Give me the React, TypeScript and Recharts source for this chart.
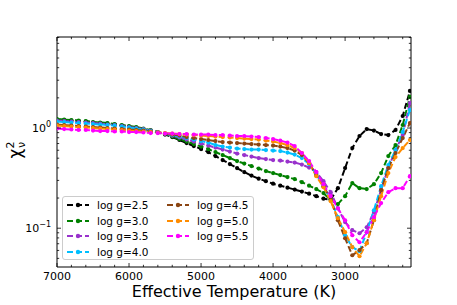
import React from "react";
import { LineChart, Line, XAxis, YAxis, Legend } from "recharts";

const temps = [
  7000, 6900, 6800, 6700, 6600, 6500, 6400, 6300, 6200, 6100,
  6000, 5900, 5800, 5700, 5600, 5500, 5400, 5300, 5200, 5100,
  5000, 4900, 4800, 4700, 4600, 4500, 4400, 4300, 4200, 4100,
  4000, 3900, 3800, 3700, 3600, 3500, 3400, 3300, 3200, 3100,
  3000, 2900, 2800, 2700, 2600, 2500, 2400, 2300, 2200, 2100,
];

const logg25 = [
  1.216, 1.202, 1.189, 1.175, 1.161, 1.135, 1.122, 1.109, 1.084, 1.059,
  1.035, 1.012, 0.977, 0.944, 0.902, 0.861, 0.813, 0.759, 0.708, 0.661,
  0.617, 0.575, 0.525, 0.479, 0.437, 0.398, 0.363, 0.335, 0.312, 0.295,
  0.278, 0.266, 0.254, 0.243, 0.232, 0.221, 0.209, 0.197, 0.193, 0.251,
  0.398, 0.631, 0.832, 0.977, 0.944, 0.871, 0.851, 0.955, 1.318, 2.344,
];
const logg30 = [
  1.23, 1.216, 1.202, 1.189, 1.175, 1.148, 1.135, 1.122, 1.096, 1.072,
  1.047, 1.023, 0.989, 0.955, 0.912, 0.871, 0.822, 0.776, 0.733, 0.692,
  0.653, 0.617, 0.575, 0.537, 0.501, 0.468, 0.442, 0.417, 0.394, 0.372,
  0.355, 0.339, 0.324, 0.309, 0.288, 0.266, 0.246, 0.224, 0.191, 0.174,
  0.209, 0.282, 0.251, 0.246, 0.275, 0.355, 0.525, 0.676, 1.072, 2.042,
];
const logg35 = [
  1.189, 1.175, 1.161, 1.148, 1.135, 1.122, 1.109, 1.084, 1.072, 1.047,
  1.023, 1.0, 0.977, 0.944, 0.912, 0.881, 0.841, 0.804, 0.767, 0.733,
  0.7, 0.668, 0.638, 0.61, 0.582, 0.556, 0.537, 0.519, 0.501, 0.49,
  0.479, 0.473, 0.462, 0.452, 0.432, 0.403, 0.363, 0.295, 0.229, 0.158,
  0.115, 0.0955, 0.0891, 0.102, 0.145, 0.24, 0.398, 0.603, 0.851, 1.778,
];
const logg40 = [
  1.161, 1.148, 1.135, 1.122, 1.109, 1.096, 1.084, 1.072, 1.059, 1.035,
  1.012, 0.989, 0.966, 0.933, 0.902, 0.881, 0.851, 0.822, 0.794, 0.767,
  0.741, 0.716, 0.676, 0.653, 0.638, 0.624, 0.617, 0.61, 0.61, 0.603,
  0.596, 0.589, 0.569, 0.543, 0.501, 0.437, 0.347, 0.263, 0.195, 0.129,
  0.0851, 0.0646, 0.0589, 0.0912, 0.151, 0.263, 0.427, 0.603, 0.912, 1.514,
];
const logg45 = [
  1.084, 1.072, 1.059, 1.047, 1.035, 1.023, 1.012, 1.0, 0.989, 0.977,
  0.966, 0.955, 0.944, 0.923, 0.902, 0.881, 0.861, 0.841, 0.813, 0.794,
  0.776, 0.759, 0.741, 0.724, 0.716, 0.708, 0.7, 0.692, 0.684, 0.676,
  0.668, 0.653, 0.631, 0.596, 0.537, 0.447, 0.339, 0.263, 0.195, 0.12,
  0.0794, 0.0537, 0.0603, 0.0708, 0.12, 0.24, 0.398, 0.562, 0.794, 1.122,
];
const logg50 = [
  1.059, 1.047, 1.035, 1.023, 1.012, 1.0, 0.989, 0.977, 0.966, 0.955,
  0.944, 0.933, 0.923, 0.912, 0.902, 0.891, 0.881, 0.871, 0.861, 0.851,
  0.841, 0.832, 0.822, 0.813, 0.804, 0.794, 0.785, 0.776, 0.767, 0.75,
  0.733, 0.708, 0.676, 0.631, 0.562, 0.447, 0.331, 0.257, 0.186, 0.126,
  0.0912, 0.0646, 0.0525, 0.0708, 0.12, 0.209, 0.355, 0.513, 0.631, 0.759,
];
const logg55 = [
  0.989, 0.977, 0.966, 0.955, 0.955, 0.944, 0.933, 0.933, 0.923, 0.923,
  0.912, 0.912, 0.902, 0.891, 0.891, 0.881, 0.881, 0.871, 0.871, 0.861,
  0.861, 0.861, 0.851, 0.851, 0.841, 0.832, 0.832, 0.822, 0.813, 0.794,
  0.776, 0.75, 0.716, 0.661, 0.562, 0.468, 0.363, 0.275, 0.209, 0.158,
  0.12, 0.0851, 0.0724, 0.0912, 0.129, 0.178, 0.229, 0.251, 0.251, 0.331,
];

const seriesKeys = ["g25", "g30", "g35", "g40", "g45", "g50", "g55"];
const seriesNames = ["log g=2.5", "log g=3.0", "log g=3.5", "log g=4.0", "log g=4.5", "log g=5.0", "log g=5.5"];
const seriesColors = ["#000000", "#008000", "#9932cc", "#00bfff", "#8b4513", "#ff8c00", "#ff00ff"];
const seriesValues = [logg25, logg30, logg35, logg40, logg45, logg50, logg55];

const xMajor = [7000, 6000, 5000, 4000, 3000];
const xMinor = [6800, 6600, 6400, 6200, 5800, 5600, 5400, 5200, 4800, 4600, 4400, 4200, 3800, 3600, 3400, 3200, 2800, 2600, 2400, 2200];
const yMajor = [0.1, 1];
const yMinor = [0.05, 0.06, 0.07, 0.08, 0.09, 0.2, 0.3, 0.4, 0.5, 0.6, 0.7, 0.8, 0.9, 2, 3, 4, 5, 6, 7, 8];

const xTicks = [...xMajor, ...xMinor];
const yTicks = [...yMajor, ...yMinor];

const data = temps.map((t, i) => {
  const row: any = { t };
  seriesKeys.forEach((k, j) => (row[k] = seriesValues[j][i]));
  return row;
});

const FONT = "DejaVu Sans, sans-serif";

const BottomTick = (props: any) => {
  const { x, y, payload } = props;
  const major = xMajor.includes(payload.value);
  return (
    <g>
      <line x1={x} x2={x} y1={y} y2={y - (major ? 4 : 2.2)} stroke="#000" strokeWidth={0.8} />
      {major && (
        <text x={x} y={y + 13} textAnchor="middle" fontSize={11} fontFamily={FONT} fill="#000">
          {payload.value}
        </text>
      )}
    </g>
  );
};

const TopTick = (props: any) => {
  const { x, y, payload } = props;
  const major = xMajor.includes(payload.value);
  return <line x1={x} x2={x} y1={y} y2={y + (major ? 4 : 2.2)} stroke="#000" strokeWidth={0.8} />;
};

const LeftTick = (props: any) => {
  const { x, y, payload } = props;
  const major = yMajor.includes(payload.value);
  return (
    <g>
      <line x1={x} x2={x + (major ? 4 : 2.2)} y1={y} y2={y} stroke="#000" strokeWidth={0.8} />
      {major && (
        <text x={x - 6} y={y + 4} textAnchor="end" fontSize={11} fontFamily={FONT} fill="#000">
          10
          <tspan dy={-5} fontSize={8}>
            {payload.value === 1 ? "0" : "\u22121"}
          </tspan>
        </text>
      )}
    </g>
  );
};

const RightTick = (props: any) => {
  const { x, y, payload } = props;
  const major = yMajor.includes(payload.value);
  return <line x1={x} x2={x - (major ? 4 : 2.2)} y1={y} y2={y} stroke="#000" strokeWidth={0.8} />;
};

const YLabel = (props: any) => {
  const { viewBox } = props;
  const cx = viewBox.x + 21;
  const cy = viewBox.y + viewBox.height / 2 - 2;
  return (
    <text x={cx} y={cy} transform={`rotate(-90 ${cx} ${cy})`} textAnchor="middle" fontFamily={FONT} fontSize={17} fill="#000">
      χ
      <tspan dy={-7} fontSize={11}>2</tspan>
      <tspan dx={-6.5} dy={11} fontSize={11}>ν</tspan>
    </text>
  );
};

const XLabel = (props: any) => {
  const { viewBox } = props;
  return (
    <text x={viewBox.x + viewBox.width / 2} y={viewBox.y + 30} textAnchor="middle" fontFamily={FONT} fontSize={16} fill="#000">
      Effective Temperature (K)
    </text>
  );
};

const renderLegend = () => (
  <div
    style={{
      border: "1px solid #cccccc",
      borderRadius: 3,
      background: "rgba(255,255,255,0.8)",
      width: 192,
      height: 64,
      boxSizing: "border-box",
      display: "grid",
      gridTemplateColumns: "100px 90px",
      gridTemplateRows: "repeat(4, 15.5px)",
      gridAutoFlow: "column",
      paddingTop: 0.5,
    }}
  >
    {seriesNames.map((n, i) => (
      <div key={n} style={{ display: "flex", alignItems: "center", fontSize: 10.5, fontFamily: FONT, color: "#000" }}>
        <svg width={34} height={10} style={{ flex: "none" }}>
          <line x1={4} x2={26} y1={5} y2={5} stroke={seriesColors[i]} strokeWidth={2} strokeDasharray="6 3" />
          <circle cx={15} cy={5} r={2.2} fill={seriesColors[i]} />
        </svg>
        <span>{n}</span>
      </div>
    ))}
  </div>
);

export default function App() {
  return (
    <div style={{ position: "absolute", left: 0, top: 0, width: 457, height: 305, background: "#fff" }}>
      <LineChart width={457} height={305} data={data} margin={{ top: 36, right: 45, bottom: 0, left: 0 }}>
        <XAxis
          dataKey="t"
          type="number"
          domain={[2085, 7000]}
          reversed
          allowDataOverflow
          ticks={xTicks}
          interval={0}
          tick={<BottomTick />}
          tickLine={false}
          tickSize={0}
          tickMargin={0}
          height={38}
          axisLine={{ stroke: "#000", strokeWidth: 1 }}
          label={<XLabel />}
        />
        <XAxis
          xAxisId="top"
          orientation="top"
          dataKey="t"
          type="number"
          domain={[2085, 7000]}
          reversed
          allowDataOverflow
          ticks={xTicks}
          interval={0}
          tick={<TopTick />}
          tickLine={false}
          tickSize={0}
          tickMargin={0}
          height={1}
          axisLine={{ stroke: "#000", strokeWidth: 1 }}
        />
        <YAxis
          scale="log"
          type="number"
          domain={[0.041, 8.1]}
          allowDataOverflow
          ticks={yTicks}
          interval={0}
          tick={<LeftTick />}
          tickLine={false}
          tickSize={0}
          tickMargin={0}
          width={57}
          axisLine={{ stroke: "#000", strokeWidth: 1 }}
          label={<YLabel />}
        />
        <YAxis
          yAxisId="right"
          orientation="right"
          scale="log"
          type="number"
          domain={[0.041, 8.1]}
          allowDataOverflow
          ticks={yTicks}
          interval={0}
          tick={<RightTick />}
          tickLine={false}
          tickSize={0}
          tickMargin={0}
          width={1}
          axisLine={{ stroke: "#000", strokeWidth: 1 }}
        />
        <Legend
          layout="vertical"
          align="center"
          verticalAlign="middle"
          content={renderLegend}
          wrapperStyle={{ left: 62, top: 196, width: 192, height: 64 }}
        />
        {seriesKeys.map((k, i) => (
          <Line
            key={k}
            dataKey={k}
            name={seriesNames[i]}
            type="linear"
            stroke={seriesColors[i]}
            strokeWidth={2}
            strokeDasharray="6 3"
            dot={{ r: 2.1, fill: seriesColors[i], stroke: "none", strokeDasharray: "0" }}
            activeDot={false}
            isAnimationActive={false}
          />
        ))}
      </LineChart>
    </div>
  );
}
